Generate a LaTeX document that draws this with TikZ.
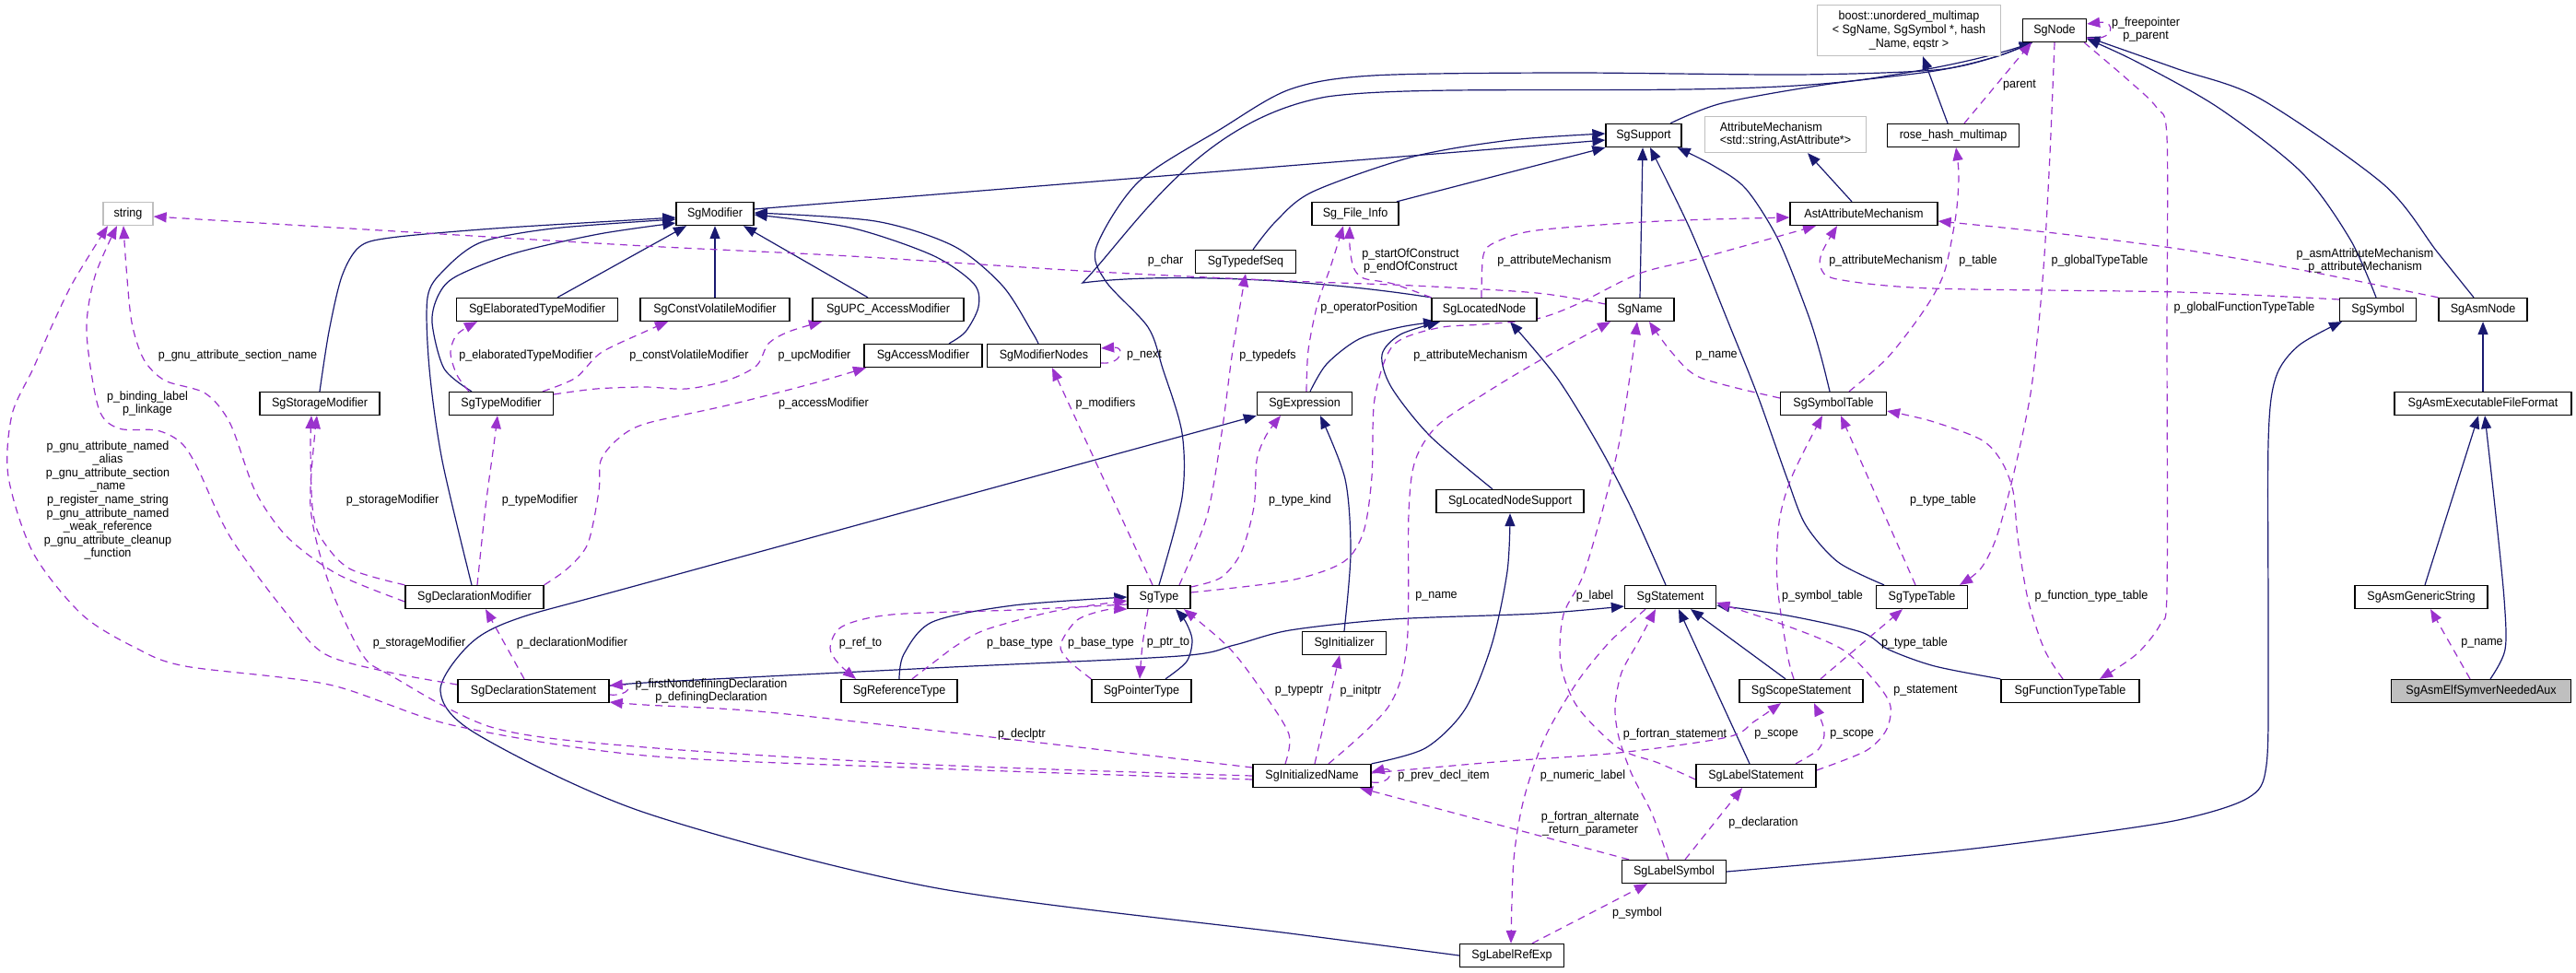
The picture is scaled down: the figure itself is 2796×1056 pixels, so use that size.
\documentclass[tikz,border=0pt]{standalone}
\usepackage{fontspec}
\setmainfont{Liberation Sans}[FakeStretch=0.93]
\usetikzlibrary{arrows.meta}
\definecolor{inhc}{HTML}{191970}
\definecolor{usec}{HTML}{9A32CD}
\definecolor{extc}{HTML}{BFBFBF}
\newcommand{\lf}{\fontsize{13.5}{14.6}\selectfont}
\pgfdeclarelayer{bg}
\pgfsetlayers{bg,main}
\begin{document}
\begin{tikzpicture}[x=1pt,y=-1pt,
  cls/.style={draw=black, line width=1.3pt, fill=white, minimum height=25pt, inner sep=0pt, font=\lf},
  extcls/.style={cls, draw=extc},
  inh/.style={draw=inhc, line width=1.2pt, -{Triangle[length=14pt,width=11pt]}},
  use/.style={draw=usec, line width=1.2pt, dash pattern=on 8pt off 6pt, -{Triangle[length=14pt,width=11pt]}},
  lbl/.style={font=\lf, inner sep=0pt, align=center}]
\useasboundingbox (0,0) rectangle (2796,1056);
% ---------------- nodes
\node[extcls,minimum width=54pt] (string) at (139,232) {string};
\node[cls,minimum width=84pt] (SgModifier) at (776,232) {SgModifier};
\node[cls,minimum width=175pt] (SgElaboratedTypeModifier) at (583,336) {SgElaboratedTypeModifier};
\node[cls,minimum width=162pt] (SgConstVolatileModifier) at (776,336) {SgConstVolatileModifier};
\node[cls,minimum width=164pt] (SgUPCAccessModifier) at (964,336) {SgUPC\_AccessModifier};
\node[cls,minimum width=109pt] (SgTypedefSeq) at (1352,284) {SgTypedefSeq};
\node[extcls,minimum width=199pt,minimum height=55pt,align=center] (boost) at (2072,33) {boost::unordered\_multimap\\< SgName, SgSymbol *, hash\\\_Name, eqstr >};
\node[cls,minimum width=82pt] (SgSupport) at (1784,147) {SgSupport};
\node[extcls,minimum width=175pt,minimum height=39pt,align=left] (AttributeMechanism) at (1938,146) {AttributeMechanism\\<std::string,AstAttribute*>};
\node[cls,minimum width=143pt] (rosehash) at (2120,147) {rose\_hash\_multimap};
\node[cls,minimum width=94pt] (SgFileInfo) at (1471,232) {Sg\_File\_Info};
\node[cls,minimum width=160pt] (AstAttributeMechanism) at (2023,232) {AstAttributeMechanism};
\node[cls,minimum width=114pt] (SgLocatedNode) at (1611,336) {SgLocatedNode};
\node[cls,minimum width=74pt] (SgName) at (1780,336) {SgName};
\node[cls,minimum width=69pt] (SgNode) at (2230,33) {SgNode};
\node[cls,minimum width=83pt] (SgSymbol) at (2581,336) {SgSymbol};
\node[cls,minimum width=96pt] (SgAsmNode) at (2695,336) {SgAsmNode};
\node[cls,minimum width=192pt] (SgAsmExecutableFileFormat) at (2695,438) {SgAsmExecutableFileFormat};
\node[cls,minimum width=144pt] (SgAsmGenericString) at (2628,648) {SgAsmGenericString};
\node[cls,minimum width=150pt] (SgFunctionTypeTable) at (2247,750) {SgFunctionTypeTable};
\node[cls,minimum width=195pt,fill=extc] (SgAsmElfSymverNeededAux) at (2693,750) {SgAsmElfSymverNeededAux};
\node[cls,minimum width=130pt] (SgStorageModifier) at (347,438) {SgStorageModifier};
\node[cls,minimum width=113pt] (SgTypeModifier) at (544,438) {SgTypeModifier};
\node[cls,minimum width=150pt] (SgDeclarationModifier) at (515,648) {SgDeclarationModifier};
\node[cls,minimum width=128pt] (SgAccessModifier) at (1002,386) {SgAccessModifier};
\node[cls,minimum width=123pt] (SgModifierNodes) at (1133,386) {SgModifierNodes};
\node[cls,minimum width=103pt] (SgExpression) at (1416,438) {SgExpression};
\node[cls,minimum width=68pt] (SgType) at (1258,648) {SgType};
\node[cls,minimum width=115pt] (SgSymbolTable) at (1990,438) {SgSymbolTable};
\node[cls,minimum width=160pt] (SgLocatedNodeSupport) at (1639,544) {SgLocatedNodeSupport};
\node[cls,minimum width=99pt] (SgStatement) at (1813,648) {SgStatement};
\node[cls,minimum width=99pt] (SgTypeTable) at (2086,648) {SgTypeTable};
\node[cls,minimum width=91pt] (SgInitializer) at (1459,698) {SgInitializer};
\node[cls,minimum width=126pt] (SgReferenceType) at (976,750) {SgReferenceType};
\node[cls,minimum width=108pt] (SgPointerType) at (1239,750) {SgPointerType};
\node[cls,minimum width=128pt] (SgInitializedName) at (1424,842) {SgInitializedName};
\node[cls,minimum width=164pt] (SgDeclarationStatement) at (579,750) {SgDeclarationStatement};
\node[cls,minimum width=134pt] (SgScopeStatement) at (1955,750) {SgScopeStatement};
\node[cls,minimum width=130pt] (SgLabelStatement) at (1906,842) {SgLabelStatement};
\node[cls,minimum width=113pt] (SgLabelSymbol) at (1817,946) {SgLabelSymbol};
\node[cls,minimum width=113pt] (SgLabelRefExp) at (1641,1037) {SgLabelRefExp};
% ---------------- labels
\node[lbl] (l01) at (2329,32) {p\_freepointer\\p\_parent};
\node[lbl] (l02) at (2192,93) {parent};
\node[lbl] (l03) at (2147,283) {p\_table};
\node[lbl] (l04) at (2279,283) {p\_globalTypeTable};
\node[lbl] (l05) at (2567,283) {p\_asmAttributeMechanism\\p\_attributeMechanism};
\node[lbl] (l06) at (2047,283) {p\_attributeMechanism};
\node[lbl] (l07) at (2436,334) {p\_globalFunctionTypeTable};
\node[lbl] (l08) at (1531,283) {p\_startOfConstruct\\p\_endOfConstruct};
\node[lbl] (l09) at (1687,283) {p\_attributeMechanism};
\node[lbl] (l10) at (1486,334) {p\_operatorPosition};
\node[lbl] (l11) at (1265,283) {p\_char};
\node[lbl] (l12) at (258,386) {p\_gnu\_attribute\_section\_name};
\node[lbl] (l13) at (160,438) {p\_binding\_label\\p\_linkage};
\node[lbl] (l14) at (117,543) {p\_gnu\_attribute\_named\\\_alias\\p\_gnu\_attribute\_section\\\_name\\p\_register\_name\_string\\p\_gnu\_attribute\_named\\\_weak\_reference\\p\_gnu\_attribute\_cleanup\\\_function};
\node[lbl] (l15) at (571,386) {p\_elaboratedTypeModifier};
\node[lbl] (l16) at (748,386) {p\_constVolatileModifier};
\node[lbl] (l17) at (884,386) {p\_upcModifier};
\node[lbl] (l18) at (1242,386) {p\_next};
\node[lbl] (l19) at (1376,386) {p\_typedefs};
\node[lbl] (l20) at (894,438) {p\_accessModifier};
\node[lbl] (l21) at (1200,438) {p\_modifiers};
\node[lbl] (l22) at (1596,386) {p\_attributeMechanism};
\node[lbl] (l23) at (1863,386) {p\_name};
\node[lbl] (l24) at (426,543) {p\_storageModifier};
\node[lbl] (l25) at (586,543) {p\_typeModifier};
\node[lbl] (l26) at (1411,543) {p\_type\_kind};
\node[lbl] (l27) at (2109,543) {p\_type\_table};
\node[lbl] (l28) at (1559,647) {p\_name};
\node[lbl] (l29) at (1731,647) {p\_label};
\node[lbl] (l30) at (1978,647) {p\_symbol\_table};
\node[lbl] (l31) at (2270,647) {p\_function\_type\_table};
\node[lbl] (l32) at (455,698) {p\_storageModifier};
\node[lbl] (l33) at (621,698) {p\_declarationModifier};
\node[lbl] (l34) at (934,698) {p\_ref\_to};
\node[lbl] (l35) at (1107,698) {p\_base\_type};
\node[lbl] (l36) at (1195,698) {p\_base\_type};
\node[lbl] (l37) at (1268,698) {p\_ptr\_to};
\node[lbl] (l38) at (2694,698) {p\_name};
\node[lbl] (l39) at (2078,698) {p\_type\_table};
\node[lbl] (l40) at (1410,750) {p\_typeptr};
\node[lbl] (l41) at (1477,750) {p\_initptr};
\node[lbl] (l42) at (2090,750) {p\_statement};
\node[lbl] (l43) at (772,750) {p\_firstNondefiningDeclaration\\p\_definingDeclaration};
\node[lbl] (l44) at (1109,797) {p\_declptr};
\node[lbl] (l45) at (1818,797) {p\_fortran\_statement};
\node[lbl] (l46) at (1928,797) {p\_scope};
\node[lbl] (l47) at (2010,797) {p\_scope};
\node[lbl] (l48) at (1567,842) {p\_prev\_decl\_item};
\node[lbl] (l49) at (1718,842) {p\_numeric\_label};
\node[lbl] (l50) at (1726,894) {p\_fortran\_alternate\\\_return\_parameter};
\node[lbl] (l51) at (1914,893) {p\_declaration};
\node[lbl] (l52) at (1777,991) {p\_symbol};
% ---------------- edges
\begin{pgfonlayer}{bg}
\fill[white] (0,0) rectangle (2796,1056);
% inheritance
\draw[inh] plot[smooth] coordinates {([xshift=29pt]SgSupport.north) (1869,112) (1980,92) (2100,77) (2165,62) ([xshift=-24pt]SgNode.south)};
\draw[inh] plot[smooth] coordinates {(SgType.north) (1283,540) (1283,470) (1262,400) (1246,355) (1200,305) (1190,268) (1236,197) (1325,140) (1400,97) (1490,82) (1700,79) (1950,81) (2100,76) (2165,62) ([xshift=-24pt]SgNode.south)};
\draw[inh] (SgLocatedNode.north west) .. controls (1420,302) and (1260,296) .. (1175,307) .. controls (1230,250) and (1300,130) .. (1440,105) .. controls (1560,88) and (1900,110) .. (2050,82) .. controls (2130,70) and (2180,55) .. ([xshift=-24pt]SgNode.south);
\draw[inh] ([yshift=5pt]SgModifier.east) -- ([yshift=-5pt]SgSupport.west);
\draw[inh] ([xshift=45pt]SgFileInfo.north) -- (SgSupport.south west);
\draw[inh] plot[smooth] coordinates {([xshift=8pt]SgTypedefSeq.north) (1385,240) (1425,208) (1534,170) (1640,152) ([yshift=2pt]SgSupport.west)};
\draw[inh] (SgName.north) -- ([xshift=-1pt]SgSupport.south);
\draw[inh] plot[smooth] coordinates {([xshift=-41pt]SgTypeTable.north) (1995,610) (1960,570) (1940,520) (1908,430) (1878,355) (1835,250) ([xshift=7pt]SgSupport.south)};
\draw[inh] plot[smooth] coordinates {([xshift=-4pt]SgSymbolTable.north) (1976,385) (1962,340) (1930,260) (1895,205) (1860,180) ([xshift=-5pt]SgSupport.south east)};
\draw[inh] ([xshift=-13pt]AstAttributeMechanism.north) -- ([xshift=24pt]AttributeMechanism.south);
\draw[inh] ([xshift=-6pt]rosehash.north) -- ([xshift=15pt]boost.south);
\draw[inh] plot[smooth] coordinates {([xshift=-2pt]SgSymbol.north) (2551,260) (2498,187) (2408,117) (2319,67) ([yshift=4pt]SgNode.south east)};
\draw[inh] plot[smooth] coordinates {([xshift=-10pt]SgAsmNode.north) (2645,273) (2587,200) (2453,107) (2364,75) ([yshift=6pt]SgNode.south east)};
\draw[inh] (SgAsmExecutableFileFormat.north) -- (SgAsmNode.south);
\draw[inh] ([xshift=4pt]SgAsmGenericString.north) -- ([xshift=-5pt]SgAsmExecutableFileFormat.south);
\draw[inh] plot[smooth] coordinates {([xshift=10pt]SgAsmElfSymverNeededAux.north) (2719,705) (2718,650) (2708,550) ([xshift=2pt]SgAsmExecutableFileFormat.south)};
\draw[inh] plot[smooth] coordinates {(SgLabelSymbol.east) (2096,926) (2230,910) (2364,890) (2440,866) (2460,830) (2462,700) (2462,480) (2470,410) (2495,375) ([xshift=-39pt]SgSymbol.south)};
\draw[inh] plot[smooth] coordinates {([xshift=6pt]SgExpression.north) (1440,395) (1475,368) (1520,355) ([xshift=-52pt]SgLocatedNode.south)};
\draw[inh] plot[smooth] coordinates {([xshift=-19pt]SgLocatedNodeSupport.north) (1552,473) (1510,420) (1500,385) (1520,363) ([xshift=-48pt]SgLocatedNode.south)};
\draw[inh] plot[smooth] coordinates {([xshift=-5pt]SgStatement.north) (1770,550) (1735,483) (1690,410) ([xshift=28pt]SgLocatedNode.south)};
\draw[inh] plot[smooth] coordinates {(SgInitializer.north) (1466,600) (1460,520) ([xshift=17pt]SgExpression.south)};
\draw[inh] plot[smooth] coordinates {(SgLabelRefExp.west) (1400,1013) (1012,963) (700,882) (518,797) (478,750) (509,700) (560,672) (700,633) (SgExpression.south west)};
\draw[inh] plot[smooth] coordinates {(SgInitializedName.north east) (1547,812) (1590,770) (1619,700) (1636,620) (SgLocatedNodeSupport.south)};
\draw[inh] plot[smooth] coordinates {([yshift=5pt]SgDeclarationStatement.east) (700,741) (1012,725) (1280,712) (1340,700) (1400,684) (1512,672) (1668,666) ([yshift=-10pt]SgStatement.west)};
\draw[inh] plot[smooth] coordinates {(SgReferenceType.north) (981,710) (1012,675) (1100,657) (SgType.west)};
\draw[inh] plot[smooth] coordinates {([xshift=26pt]SgPointerType.north) (1288,718) (1294,695) (1287,675) ([xshift=18pt]SgType.south)};
\draw[inh] ([xshift=-17pt]SgScopeStatement.north) -- ([xshift=22pt]SgStatement.south);
\draw[inh] ([xshift=-7pt]SgLabelStatement.north) -- ([xshift=9pt]SgStatement.south);
\draw[inh] plot[smooth] coordinates {(SgFunctionTypeTable.north west) (2100,723) (2050,705) (2020,686) (1940,668) ([yshift=-9pt]SgStatement.east)};
\draw[inh] plot[smooth] coordinates {(SgStorageModifier.north) (357,360) (371,300) (390,268) (424,258) (536,248) (700,238) ([yshift=-4pt]SgModifier.west)};
\draw[inh] plot[smooth] coordinates {([xshift=-3pt]SgDeclarationModifier.north) (480,500) (466,400) (464,323) (482,293) (522,263) (600,248) ([yshift=-6pt]SgModifier.west)};
\draw[inh] plot[smooth] coordinates {([xshift=-32pt]SgTypeModifier.north) (482,400) (469,350) (476,320) (495,300) (558,275) (650,254) ([yshift=-10pt]SgModifier.west)};
\draw[inh] ([xshift=22pt]SgElaboratedTypeModifier.north) -- ([xshift=-31pt]SgModifier.south);
\draw[inh] (SgConstVolatileModifier.north) -- (SgModifier.south);
\draw[inh] ([xshift=-22pt]SgUPCAccessModifier.north) -- ([xshift=31pt]SgModifier.south);
\draw[inh] plot[smooth] coordinates {([xshift=28pt]SgAccessModifier.north) (1048,360) (1062,333) (1057,308) (1012,277) (923,247) ([yshift=-1pt]SgModifier.east)};
\draw[inh] plot[smooth] coordinates {([xshift=-6pt]SgModifierNodes.north) (1120,360) (1088,310) (1035,267) (950,240) ([yshift=1pt]SgModifier.east)};
% usage
\draw[use] ([yshift=-8pt]SgNode.east) .. controls (2295,46) and (2298,22) .. ([yshift=7pt]SgNode.east);
\draw[use] ([xshift=12pt]rosehash.north) -- ([xshift=-25pt]SgNode.south);
\draw[use] plot[smooth] coordinates {([xshift=17pt]SgSymbolTable.north) (2047,390) (2079,350) (2100,318) (2112,290) (2123,233) (2126,190) ([xshift=3pt]rosehash.south)};
\draw[use] plot[smooth] coordinates {(SgNode.south) (2225,167) (2219,277) (2212,360) (2203,433) (2185,517) (2167,583) (2150,617) ([xshift=41pt]SgTypeTable.north)};
\draw[use] plot[smooth] coordinates {([xshift=-3pt]SgNode.south east) (2310,87) (2341,117) (2352,150) (2352,360) (2352,640) (2345,677) (2319,710) ([xshift=32pt]SgFunctionTypeTable.north)};
\draw[use] plot[smooth] coordinates {([xshift=-8pt]SgFunctionTypeTable.north) (2219,705) (2201,650) (2190,583) (2185,533) (2172,500) (2150,477) (2096,457) ([yshift=-8pt]SgSymbolTable.east)};
\draw[use] ([xshift=-7pt]SgTypeTable.north) -- ([xshift=8pt]SgSymbolTable.south);
\draw[use] plot[smooth] coordinates {([xshift=-8pt]SgScopeStatement.north) (1940,710) (1929,633) (1931,567) (1945,517) ([xshift=-12pt]SgSymbolTable.south)};
\draw[use] ([xshift=21pt]SgScopeStatement.north) -- ([xshift=-21pt]SgTypeTable.south);
\draw[use] plot[smooth] coordinates {([yshift=6pt]SgSymbolTable.west) (1846,410) (1815,383) ([xshift=10pt]SgName.south)};
\draw[use] plot[smooth] coordinates {([xshift=18pt]SgInitializedName.north) (1507,767) (1527,700) (1529,557) (1536,500) (1560,462) (1610,428) (1668,393) ([xshift=-32pt]SgName.south)};
\draw[use] plot[smooth] coordinates {([yshift=-4pt]SgLabelStatement.west) (1800,828) (1757,812) (1712,767) (1694,720) (1697,667) (1721,617) (1757,483) ([xshift=-3pt]SgName.south)};
\draw[use] plot[smooth] coordinates {([xshift=-6pt]SgLabelSymbol.north) (1793,883) (1771,840) (1757,800) (1753,767) (1760,730) (1778,697) ([xshift=-16pt]SgStatement.south)};
\draw[use] plot[smooth] coordinates {([xshift=-27pt]SgStatement.south) (1765,680) (1744,700) (1712,740) (1677,800) (1654,867) (1643,933) ([xshift=-1pt]SgLabelRefExp.north)};
\draw[use] ([xshift=12pt]SgLabelSymbol.north) -- ([xshift=-15pt]SgLabelStatement.south);
\draw[use] ([xshift=22pt]SgLabelRefExp.north) -- ([xshift=-29pt]SgLabelSymbol.south);
\draw[use] ([xshift=-49pt]SgLabelSymbol.north) -- ([xshift=52pt]SgInitializedName.south);
\draw[use] plot[smooth] coordinates {([xshift=43pt]SgLabelStatement.north) (1974,813) (1980,793) ([xshift=14pt]SgScopeStatement.south)};
\draw[use] plot[smooth] coordinates {([yshift=3pt]SgInitializedName.east) (1623,827) (1757,817) (1875,800) (1904,783) ([xshift=-22pt]SgScopeStatement.south)};
\draw[use] plot[smooth] coordinates {([yshift=6pt]SgLabelStatement.east) (2025,815) (2047,793) (2052,767) (2038,743) (2000,705) (1936,678) ([yshift=-6pt]SgStatement.east)};
\draw[use] ([yshift=-7pt]SgInitializedName.east) .. controls (1512,852) and (1514,832) .. ([yshift=4pt]SgInitializedName.east);
\draw[use] ([xshift=3pt]SgInitializedName.north) -- ([xshift=-5pt]SgInitializer.south);
\draw[use] plot[smooth] coordinates {([xshift=-29pt]SgInitializedName.north) (1399,797) (1370,750) (1334,703) ([xshift=27pt]SgType.south)};
\draw[use] plot[smooth] coordinates {([yshift=9pt]SgInitializedName.west) (1102,803) (834,773) (700,765) ([yshift=-12pt]SgDeclarationStatement.east)};
\draw[use] plot[smooth] coordinates {(SgInitializedName.west) (1012,830) (700,811) (536,790) (424,733) (393,710) (357,633) (337,550) ([xshift=-3pt]SgStorageModifier.south)};
\draw[use] plot[smooth] coordinates {([yshift=-5pt]SgDeclarationModifier.west) (366,623) (312,583) (277,533) (250,460) (223,427) (179,413) (156,390) (143,350) (137,290) ([xshift=-5pt]string.south)};
\draw[use] plot[smooth] coordinates {([yshift=7pt]SgDeclarationStatement.west) (424,730) (353,710) (312,667) (250,583) (214,507) (196,480) (170,467) (129,465) (107,443) (94,360) (103,300) ([xshift=-12pt]string.south)};
\draw[use] plot[smooth] coordinates {([yshift=-4pt]SgInitializedName.west) (1012,834) (700,820) (491,787) (357,743) (201,723) (147,703) (89,667) (36,600) (9,517) (13,450) (36,400) (58,350) (80,305) ([xshift=-22pt]string.south)};
\draw[use] plot[smooth] coordinates {(SgDeclarationModifier.north west) (379,617) (348,583) (339,550) (337,483) ([xshift=-9pt]SgStorageModifier.south)};
\draw[use] plot[smooth] coordinates {([xshift=3pt]SgDeclarationModifier.north) (527,550) (536,483) ([xshift=-4pt]SgTypeModifier.south)};
\draw[use] ([xshift=-10pt]SgDeclarationStatement.north) -- ([xshift=12pt]SgDeclarationModifier.south);
\draw[use] plot[smooth] coordinates {([xshift=-35pt]SgTypeModifier.north) (496,407) (489,383) (496,363) ([xshift=-65pt]SgElaboratedTypeModifier.south)};
\draw[use] plot[smooth] coordinates {([xshift=45pt]SgTypeModifier.north) (625,410) (652,383) (700,360) ([xshift=-51pt]SgConstVolatileModifier.south)};
\draw[use] plot[smooth] coordinates {([yshift=10pt]SgTypeModifier.east) (647,422) (700,420) (745,422) (789,413) (821,397) (834,373) (856,360) ([xshift=-72pt]SgUPCAccessModifier.south)};
\draw[use] plot[smooth] coordinates {(SgDeclarationModifier.north east) (616,617) (638,590) (650,533) (652,500) (670,477) (700,460) (789,440) (879,417) ([xshift=-62pt]SgAccessModifier.south)};
\draw[use] ([yshift=-8pt]SgModifierNodes.east) .. controls (1218,396) and (1222,376) .. ([yshift=8pt]SgModifierNodes.east);
\draw[use] ([xshift=-7pt]SgType.north) -- ([xshift=9pt]SgModifierNodes.south);
\draw[use] plot[smooth] coordinates {([xshift=22pt]SgType.north) (1310,560) (1326,470) (1338,380) (SgTypedefSeq.south)};
\draw[use] plot[smooth] coordinates {([yshift=11pt]SgType.east) (1325,627) (1347,600) (1361,550) (1364,500) (1374,473) ([xshift=-26pt]SgExpression.south)};
\draw[use] plot[smooth] coordinates {([yshift=5pt]SgType.east) (1400,630) (1458,610) (1480,577) (1489,517) (1492,433) (1512,375) (1560,356) (1610,352) (1668,346) (1712,330) (1779,297) (1846,280) ([xshift=-52pt]AstAttributeMechanism.south)};
\draw[use] plot[smooth] coordinates {([xshift=-3pt]SgLocatedNode.north) (1610,277) (1623,263) (1668,250) (1802,240) ([yshift=-4pt]AstAttributeMechanism.west)};
\draw[use] plot[smooth] coordinates {([yshift=11pt]SgSymbol.west) (2364,317) (2096,313) (1994,303) (1976,290) (1978,273) ([xshift=-29pt]AstAttributeMechanism.south)};
\draw[use] plot[smooth] coordinates {(SgAsmNode.north west) (2498,293) (2364,270) (2230,253) ([yshift=-8pt]AstAttributeMechanism.east)};
\draw[use] plot[smooth] coordinates {(SgLocatedNode.north west) (1512,308) (1480,302) (1469,290) (1465,267) ([xshift=-6pt]SgFileInfo.south)};
\draw[use] plot[smooth] coordinates {([xshift=2pt]SgExpression.north) (1420,380) (1430,330) (1444,290) ([xshift=-13pt]SgFileInfo.south)};
\draw[use] plot[smooth] coordinates {([yshift=6pt]SgName.west) (1668,318) (1534,310) (1400,305) (1191,295) (923,278) (700,267) (446,252) ([yshift=-3pt]string.east)};
\draw[use] plot[smooth] coordinates {([yshift=-8pt]SgType.west) (1102,662) (968,667) (914,680) (901,703) (910,720) ([xshift=-47pt]SgReferenceType.north)};
\draw[use] plot[smooth] coordinates {([xshift=14pt]SgReferenceType.north) (1012,720) (1039,700) (1071,683) (1146,663) ([yshift=-4pt]SgType.west)};
\draw[use] plot[smooth] coordinates {(SgPointerType.north west) (1160,717) (1151,700) (1169,673) (1200,662) (SgType.south west)};
\draw[use] plot[smooth] coordinates {([xshift=-12pt]SgType.south) (1240,700) ([xshift=-2pt]SgPointerType.north)};
\draw[use] ([yshift=-4pt]SgDeclarationStatement.east) .. controls (683,756) and (688,742) .. ([yshift=6pt]SgDeclarationStatement.east);
\draw[use] ([xshift=-12pt]SgAsmElfSymverNeededAux.north) -- ([xshift=10pt]SgAsmGenericString.south);
\end{pgfonlayer}
\end{tikzpicture}
\end{document}
